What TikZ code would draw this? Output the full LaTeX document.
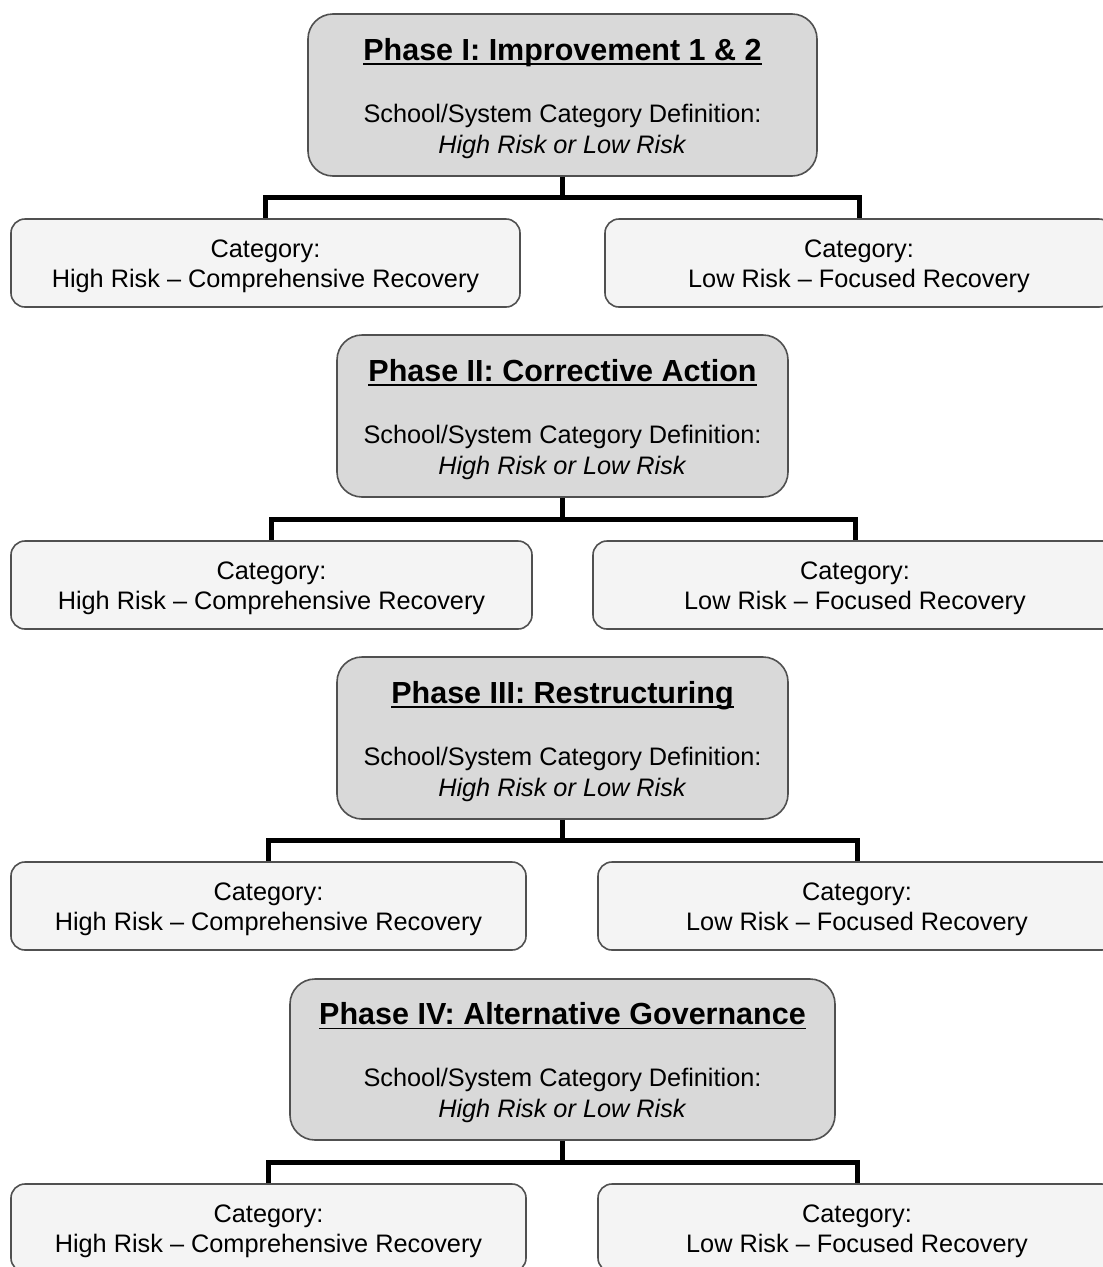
\documentclass[tikz,border=0pt]{standalone}
\usepackage{fontspec}
\setmainfont{Liberation Sans}
\usetikzlibrary{calc}
\newcommand{\phul}[1]{\setbox0\hbox{#1}\rlap{\rule[-4.5pt]{\wd0}{1.8pt}}\box0}
\definecolor{phasefill}{HTML}{D9D9D9}
\definecolor{catfill}{HTML}{F4F4F4}
\definecolor{edgegray}{HTML}{505050}
\tikzset{
  phase/.style={draw=edgegray, line width=1.6pt, fill=phasefill, rounded corners=25pt,
    minimum height=162pt, align=center, inner sep=0pt,
    font=\fontsize{25.3}{31}\selectfont, text=black},
  catbox/.style={draw=edgegray, line width=1.6pt, fill=catfill, rounded corners=14pt,
    minimum height=88pt, align=center, inner sep=0pt,
    font=\fontsize{25.3}{30}\selectfont, text=black},
  conn/.style={line width=5pt, black, line join=miter}
}
\newcommand{\phasetext}[1]{\rule{0pt}{29pt}{\fontsize{30.5}{31}\selectfont\bfseries\phul{#1}}\\[31pt]School/System Category Definition:\\\textit{High Risk or Low Risk}}
\newcommand{\cattext}[1]{\rule{0pt}{24.5pt}Category:\\#1}
\begin{document}
\begin{tikzpicture}[x=1pt,y=-1pt]
\useasboundingbox (0,0) rectangle (1103,1267);
% Phase I
\node[phase, minimum width=509pt] (p1) at (562.5,95) {\phasetext{Phase I: Improvement 1 \& 2}};
\node[catbox, minimum width=509pt] (c1l) at (265.5,263) {\cattext{High Risk -- Comprehensive Recovery}};
\node[catbox, minimum width=508pt] (c1r) at (859,263) {\cattext{Low Risk -- Focused Recovery}};
% Phase II
\node[phase, minimum width=451pt] (p2) at (562.5,416) {\phasetext{Phase II: Corrective Action}};
\node[catbox, minimum width=521pt] (c2l) at (271.5,585) {\cattext{High Risk -- Comprehensive Recovery}};
\node[catbox, minimum width=524pt] (c2r) at (855,585) {\cattext{Low Risk -- Focused Recovery}};
% Phase III
\node[phase, minimum width=451pt] (p3) at (562.5,738) {\phasetext{Phase III: Restructuring}};
\node[catbox, minimum width=515pt] (c3l) at (268.5,906) {\cattext{High Risk -- Comprehensive Recovery}};
\node[catbox, minimum width=518pt] (c3r) at (857,906) {\cattext{Low Risk -- Focused Recovery}};
% Phase IV
\node[phase, minimum width=545pt, minimum height=161pt] (p4) at (562.5,1059.5) {\phasetext{Phase IV: Alternative Governance}};
\node[catbox, minimum width=515pt] (c4l) at (268.5,1228) {\cattext{High Risk -- Comprehensive Recovery}};
\node[catbox, minimum width=518pt] (c4r) at (857,1228) {\cattext{Low Risk -- Focused Recovery}};
% connectors
\foreach \p/\l/\r in {p1/c1l/c1r, p2/c2l/c2r, p3/c3l/c3r, p4/c4l/c4r}{
  \draw[conn] (\p.south) -- ($(\p.south)!.5!(\p.south |- \l.north)$) coordinate (j\p);
  \draw[conn] (\l.north) |- (j\p) -| (\r.north);
}
\end{tikzpicture}
\end{document}
